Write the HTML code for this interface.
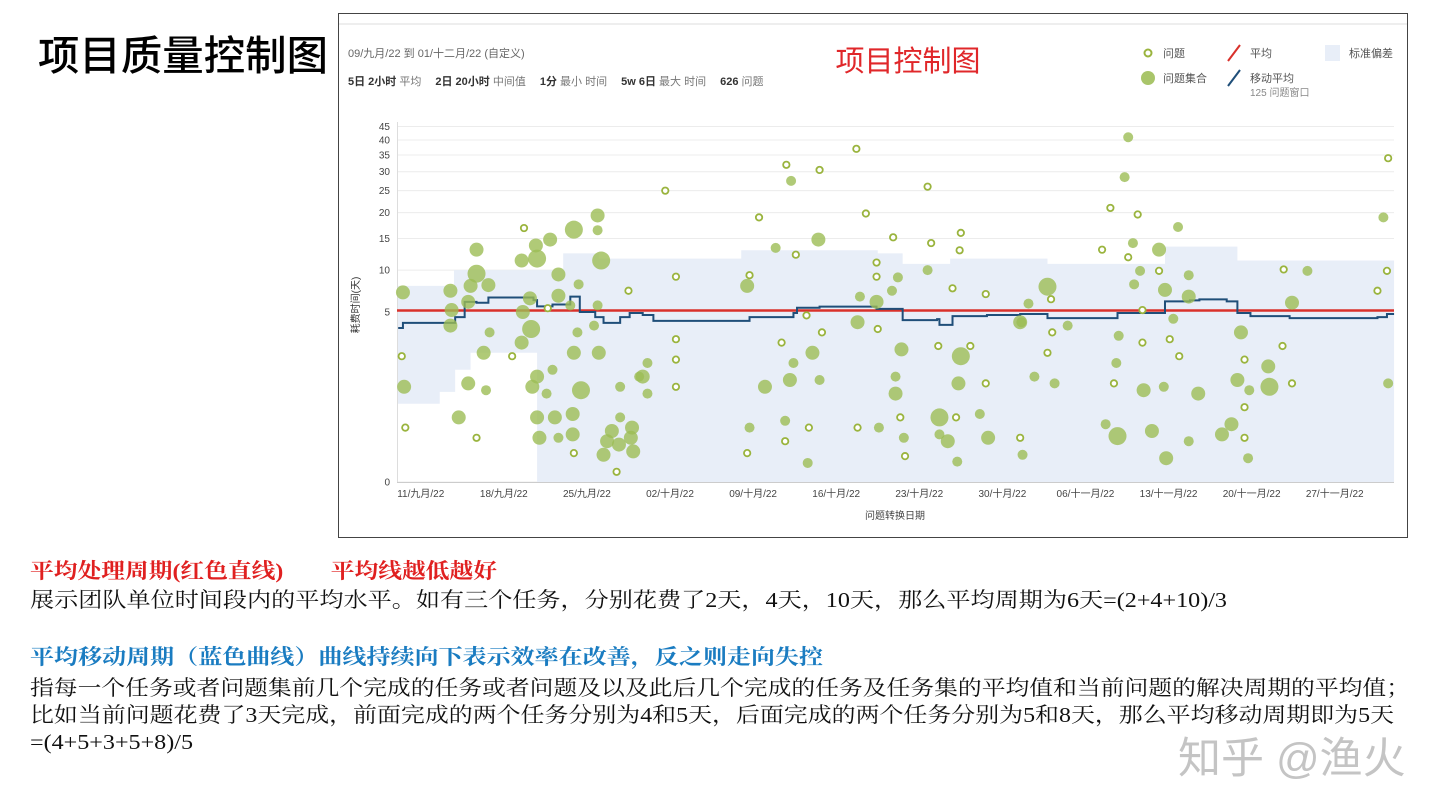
<!DOCTYPE html>
<html><head><meta charset="utf-8">
<style>
body{margin:0;width:1440px;height:810px;background:#fff;position:relative;overflow:hidden;font-family:"Liberation Sans","Noto Sans CJK SC",sans-serif}
.abs{position:absolute;white-space:nowrap}
.t{font-family:"Liberation Serif","Noto Serif CJK SC",serif;font-size:21px;transform-origin:0 0;line-height:1}
</style></head><body>
<div class="abs" id="ttl" style="left:38px;top:22px;font-size:41px;color:#000;font-weight:500;transform-origin:0 0;font-family:'Liberation Sans','Noto Sans CJK SC',sans-serif">项目质量控制图</div>
<svg id="chart" width="1440" height="810" style="position:absolute;left:0;top:0" xmlns="http://www.w3.org/2000/svg" font-family="Liberation Sans, Noto Sans CJK SC, sans-serif">
<rect x="338.5" y="13.5" width="1069" height="524" fill="none" stroke="#444" stroke-width="1"/>
<line x1="339" y1="24" x2="1407" y2="24" stroke="#ddd"/>
<text x="348" y="57" font-size="11" fill="#666">09/九月/22 到 01/十二月/22 (自定义)</text>
<text x="348" y="85" font-size="11" fill="#777"><tspan font-weight="bold" fill="#333">5日 2小时</tspan> 平均<tspan dx="14" font-weight="bold" fill="#333">2日 20小时</tspan> 中间值<tspan dx="14" font-weight="bold" fill="#333">1分</tspan> 最小 时间<tspan dx="14" font-weight="bold" fill="#333">5w 6日</tspan> 最大 时间<tspan dx="14" font-weight="bold" fill="#333">626</tspan> 问题</text>
<text x="908" y="71" font-size="29" fill="#e0272a" text-anchor="middle">项目控制图</text>
<g font-size="11" fill="#555">
<circle cx="1148" cy="53" r="3.5" fill="#fff" stroke="#9ab43e" stroke-width="2"/><text x="1163" y="57">问题</text>
<line x1="1228" y1="61" x2="1240" y2="45" stroke="#d9312b" stroke-width="2"/><text x="1250" y="57">平均</text>
<rect x="1325" y="45" width="15" height="16" fill="#e8eef8"/><text x="1349" y="57">标准偏差</text>
<circle cx="1148" cy="78" r="7" fill="#a9c56a"/><text x="1163" y="82">问题集合</text>
<line x1="1228" y1="86" x2="1240" y2="70" stroke="#1f4e79" stroke-width="2"/><text x="1250" y="82">移动平均</text>
<text x="1250" y="96" font-size="10" fill="#888">125 问题窗口</text>
</g>
<g id="plot"></g>
<text transform="translate(359,305) rotate(-90)" font-size="10" fill="#333" text-anchor="middle">耗费时间(天)</text>
<text x="895" y="519" font-size="10" fill="#444" text-anchor="middle">问题转换日期</text>
</svg>
<div class="abs t" id="l1" style="left:30px;top:561px;color:#e02020;font-weight:bold" data-w="467">平均处理周期(红色直线)　　平均线越低越好</div>
<div class="abs t" id="l2" style="left:30px;top:590px;color:#111" data-w="1197">展示团队单位时间段内的平均水平。如有三个任务，分别花费了2天，4天，10天，那么平均周期为6天=(2+4+10)/3</div>
<div class="abs t" id="l3" style="left:30px;top:647px;color:#1a7cc1;font-weight:bold" data-w="793">平均移动周期（蓝色曲线）曲线持续向下表示效率在改善，反之则走向失控</div>
<div class="abs t" id="l4" style="left:30px;top:678px;color:#111" data-w="1380">指每一个任务或者问题集前几个完成的任务或者问题及以及此后几个完成的任务及任务集的平均值和当前问题的解决周期的平均值；</div>
<div class="abs t" id="l5" style="left:30px;top:705px;color:#111" data-w="1364">比如当前问题花费了3天完成，前面完成的两个任务分别为4和5天，后面完成的两个任务分别为5和8天，那么平均移动周期即为5天</div>
<div class="abs t" id="l6" style="left:30px;top:732px;color:#111" data-w="163">=(4+5+3+5+8)/5</div>
<div class="abs" style="left:1178px;top:724px;font-size:43px;color:#c4c4c4;font-family:'Liberation Sans','Noto Sans CJK SC',sans-serif">知乎 @渔火</div>
<script>
const yTicks=[0,5,10,15,20,25,30,35,40,45];
const xTickDays=[2,9,16,23,30,37,44,51,58,65,72,79];
const xTickLabels=["11/九月/22","18/九月/22","25/九月/22","02/十月/22","09/十月/22","16/十月/22","23/十月/22","30/十月/22","06/十一月/22","13/十一月/22","20/十一月/22","27/十一月/22"];
const avgValue=5.05;
const ptDay=[0.5,0.4,0.6,0.7,4.5,4.6,4.5,6.0,6.2,6.7,6.7,7.8,7.3,7.7,7.5,6.0,5.2,6.7,9.7,10.7,10.5,11.8,11.7,12.9,11.2,10.6,11.3,10.5,13.6,13.6,15.3,12.7,14.6,14.9,16.9,16.9,17.2,16.9,16.6,15.2,14.9,17.0,13.1,11.8,11.4,12.6,15.5,11.8,13.3,14.8,14.8,12.0,13.6,14.9,17.4,18.1,17.7,18.7,18.8,19.8,19.7,19.9,18.5,19.5,20.4,18.8,21.1,20.7,21.1,22.6,23.5,23.5,23.5,23.5,29.5,29.7,30.5,31.9,32.8,33.2,33.6,35.6,35.5,38.7,39.5,41.8,40.4,40.4,42.2,41.7,39.0,40.4,34.5,38.8,40.5,35.8,32.4,42.5,35.0,33.4,31.0,33.1,35.6,29.7,32.7,34.7,38.8,40.6,32.7,29.5,34.6,42.0,42.0,42.4,42.7,42.8,44.7,45.0,47.5,47.4,44.7,46.8,49.6,45.6,48.3,47.5,47.3,49.6,45.7,47.1,49.1,45.7,46.4,49.8,47.2,52.5,61.6,61.3,60.1,62.4,59.4,62.0,61.6,65.8,64.2,64.2,62.6,62.1,66.7,64.7,66.7,62.8,65.4,53.2,54.8,55.1,52.6,55.2,56.5,54.8,60.8,60.6,60.4,53.7,55.4,62.8,65.1,65.9,62.9,64.6,67.5,59.7,60.7,63.6,66.7,64.8,52.5,52.7,71.1,71.4,70.8,71.8,71.4,70.3,69.5,71.4,71.7,73.4,73.5,74.6,75.4,74.7,76.7,75.4,83.5,83.1,83.4,82.6,83.5];
const ptValue=[7.1,3.7,2.8,1.6,7.3,5.1,4.6,6.0,7.9,9.5,13.1,4.4,3.8,8.0,2.7,2.9,1.9,1.3,3.7,16.9,11.4,11.7,13.8,14.8,6.4,5.0,4.5,4.1,9.4,6.7,8.1,5.3,5.6,16.6,19.4,16.5,11.4,5.6,4.6,4.4,3.8,3.8,3.3,3.1,2.8,2.6,2.7,1.9,1.9,2.0,1.4,1.3,1.3,0.85,0.8,1.5,1.2,1.1,1.9,1.6,1.3,0.9,0.3,7.3,3.1,2.8,3.5,3.1,2.6,25,9.1,4.2,3.6,2.8,7.9,9.3,19,13.4,32,27.5,12.3,30.5,14.8,37,19.8,15.2,11.1,9.1,9.0,7.3,6.6,6.0,4.9,4.7,4.5,4.4,4.1,3.9,3.8,3.5,2.8,3.0,3.0,1.6,1.8,1.6,1.6,1.6,1.2,0.85,0.56,3.1,2.6,1.9,1.3,0.76,26,14.2,16,13,10,7.6,6.9,4.0,4.0,3.7,2.9,2.9,1.9,1.9,2.0,1.4,1.2,1.3,0.6,4.7,41,28.5,21,19.6,13.1,14.2,11.9,17.1,13.1,9.9,9.9,8.1,9.3,7.4,6.6,5.1,4.8,5.8,7.8,6.3,4.7,4.4,4.6,3.8,4.3,3.5,2.9,3.1,2.9,4.1,4.2,3.7,2.7,2.8,2.6,1.7,1.35,1.5,1.2,0.7,1.3,0.8,4.4,3.6,3.0,2.7,2.2,1.7,1.4,1.3,0.7,3.4,2.8,4.0,2.9,10.1,9.9,5.9,34,19,9.9,7.3,2.9];
const ptSize=[2,0,2,0,2,2,2,2,2,3,2,1,2,2,1,2,2,0,0,0,2,3,2,2,2,2,3,2,2,2,1,0,1,3,2,1,3,1,1,1,2,2,1,2,2,1,3,2,2,2,2,2,1,0,2,2,2,2,1,2,2,2,0,0,1,1,1,2,1,0,0,0,0,0,2,0,0,1,0,1,0,0,2,0,0,0,0,0,1,1,1,2,0,2,0,0,0,2,2,1,2,2,1,1,1,0,0,1,0,0,1,1,2,0,1,0,0,0,0,0,1,0,0,0,0,3,2,0,3,0,1,1,2,2,1,2,1,1,0,0,0,1,0,1,2,0,1,1,1,2,2,0,1,1,3,0,1,0,1,0,1,1,0,1,1,0,0,0,2,1,2,1,3,2,1,2,0,1,2,0,2,1,0,2,2,0,1,2,3,0,0,0,1,2,0,1,0,0,1,0,2];
const maDay=[0.1,0.5,4.9,5.7,6.7,7.7,10.6,11.5,11.8,13.1,14.6,15.4,16.7,17.4,18.8,19.6,20.7,21.6,29.5,29.7,33.4,33.7,35.6,40.4,42.6,45.5,45.7,46.8,49.7,52.5,54.8,60.7,64.5,64.7,66.8,67.6,69.9,70.8,71.9,75.2,82.6,83.4,84];
const maValue=[4.53,4.68,4.85,6.0,5.9,6.5,6.5,6.2,5.5,5.7,6.6,5.0,4.85,4.68,4.85,4.97,4.91,4.74,4.74,4.85,4.97,5.35,5.47,5.23,4.76,4.79,4.62,4.88,4.91,4.94,4.82,4.97,4.97,6.05,6.16,6.28,6.05,4.97,4.88,4.82,4.85,4.94,4.94];
const bandDay=[0,4.8,14,17,29,40.5,42.6,46.6,54.8,64.7,70.8,84];
const bandUpper=[7.9,10,12.5,11.7,13,12.5,10.9,11.7,10.9,13.6,11.4,11.4];
const lowDay=[0,3.6,4.9,6.2,11.8,84];
const bandLower=[2.3,2.65,3.3,3.8,0,0];

const NS="http://www.w3.org/2000/svg";
function xS(d){return 397+d*11.87;}
function yS(v){return v<=5?482-v*34:311-142*Math.log((v+10)/15);}
const plot=document.getElementById('plot');
function mk(tag,attrs,parent){const e=document.createElementNS(NS,tag);for(const k in attrs)e.setAttribute(k,attrs[k]);(parent||plot).appendChild(e);return e;}
yTicks.forEach(v=>{
  const g=mk('line',{x1:397,x2:1394,y1:yS(v),y2:yS(v),stroke:'#ececec'});
  
  
  const t=mk('text',{x:390,y:yS(v)+3.5,'font-size':10,fill:'#444','text-anchor':'end'});
  
  
  t.textContent=v;
});
function stepPts(days,vals){let p=[];for(let i=0;i<days.length;i++){if(i>0)p.push([xS(days[i]),yS(vals[i-1])]);p.push([xS(days[i]),yS(vals[i])]);}return p;}
const up=stepPts(bandDay,bandUpper), lo=stepPts(lowDay,bandLower).reverse();
const band=mk('polygon',{points:up.concat(lo).map(p=>p.join(',')).join(' '),fill:'#e8eef8'});


const ax=mk('line',{x1:397,x2:1394,y1:482.5,y2:482.5,stroke:'#ccc'});


const ay=mk('line',{x1:397.5,x2:397.5,y1:122,y2:482,stroke:'#ddd'});


xTickDays.forEach((d,i)=>{
  const t=mk('text',{x:xS(d),y:497,'font-size':10,fill:'#444','text-anchor':'middle'});
  
  
  t.textContent=xTickLabels[i];
});
const av=mk('line',{x1:397,x2:1394,y1:yS(avgValue),y2:yS(avgValue),stroke:'#d9312b','stroke-width':2.5});


const ma=mk('polyline',{points:stepPts(maDay,maValue).map(p=>p.join(',')).join(' '),fill:'none',stroke:'#1f4e79','stroke-width':2});


const radii=[3.2,5,7,9];
ptDay.forEach((d,i)=>{
  const s=ptSize[i];
  let c;
  if(s===0){c=mk('circle',{cx:xS(d),cy:yS(ptValue[i]),r:radii[0],fill:'#fff',stroke:'#9ab43e','stroke-width':1.8});
    }
  else{c=mk('circle',{cx:xS(d),cy:yS(ptValue[i]),r:radii[s],fill:'#9cbd55','fill-opacity':0.8});
    }
  
});
document.querySelectorAll('.t').forEach(el=>{const w=el.getBoundingClientRect().width;const tw=+el.dataset.w;el.style.transform='scaleX('+(tw/w)+')';});
(function(){const el=document.getElementById('ttl');const w=el.getBoundingClientRect().width;el.style.transform='scaleX('+(290/w)+')';})();
</script>
</body></html>
